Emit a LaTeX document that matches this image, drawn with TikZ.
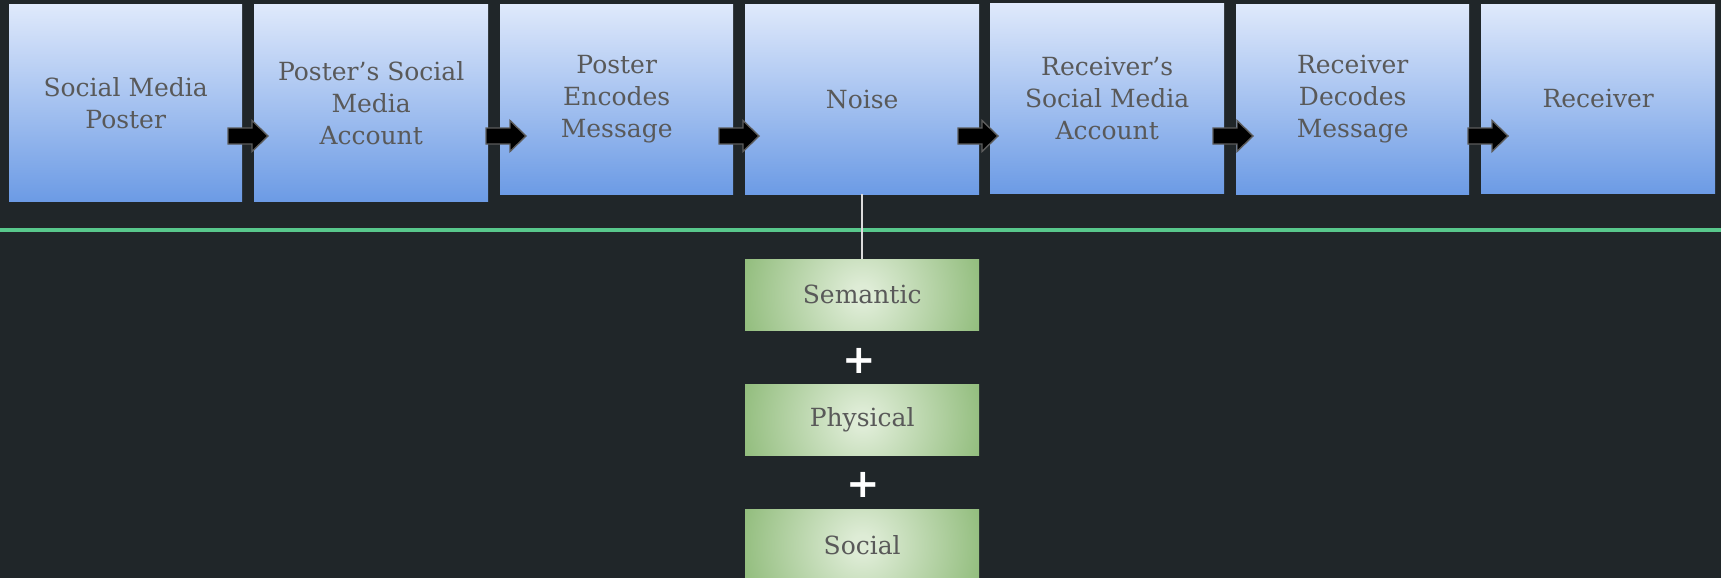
\documentclass[tikz,border=0pt]{standalone}
\usepackage{fontspec}
\setmainfont{DejaVu Serif}
\setsansfont{DejaVu Sans}
\usetikzlibrary{calc}

\definecolor{bgdark}{RGB}{32,38,41}
\definecolor{stepTop}{RGB}{223,233,251}
\definecolor{stepBottom}{RGB}{108,155,229}
\definecolor{greenEdge}{RGB}{146,189,125}
\definecolor{greenCore}{RGB}{222,236,214}
\definecolor{labelgray}{RGB}{89,89,89}
\definecolor{rulegreen}{RGB}{88,200,140}
\definecolor{arrowedge}{RGB}{92,92,92}
\definecolor{stemgray}{RGB}{220,220,220}

% circular glow: light core fading to green at the rim
% (TikZ fits the path into the central half of the shading square)
\pgfdeclareradialshading{noiseglow}{\pgfpoint{0bp}{0bp}}{%
  color(0bp)=(greenCore); color(2bp)=(greenCore); color(25bp)=(greenEdge); color(50bp)=(greenEdge)}

\tikzset{
  stepbox/.style={rectangle, inner sep=0pt, anchor=north west,
    top color=stepTop, bottom color=stepBottom,
    text=labelgray, align=center, font=\fontsize{25}{32}\selectfont},
  noisebox/.style={rectangle, inner sep=0pt, anchor=north west,
    minimum width=234pt, minimum height=71pt,
    path picture={\shade[shading=noiseglow]
      (path picture bounding box.center) circle (123pt);},
    text=labelgray, font=\fontsize{25}{32}\selectfont},
  plussign/.style={text=white, inner sep=0pt,
    font=\sffamily\bfseries\fontsize{40}{40}\selectfont},
  flowarrow/.pic={
    \draw[fill=black, draw=arrowedge, line width=1.4pt, line join=miter]
      (0,-8) -- (24,-8) -- (24,-15.5) -- (40,0) -- (24,15.5) -- (24,8) -- (0,8) -- cycle;
  }
}

\begin{document}
\begin{tikzpicture}[x=1pt,y=-1pt]
  % canvas
  \fill[bgdark] (0,0) rectangle (1721,578);
  \useasboundingbox (0,0) rectangle (1721,578);

  % communication chain
  \node[stepbox, minimum width=233pt, minimum height=197pt] (b1) at (9,4)    {Social Media\\Poster};
  \node[stepbox, minimum width=234pt, minimum height=197pt] (b2) at (254,4)  {Poster’s Social\\Media\\Account};
  \node[stepbox, minimum width=233pt, minimum height=190pt] (b3) at (500,4)  {Poster\\Encodes\\Message};
  \node[stepbox, minimum width=234pt, minimum height=190pt] (b4) at (745,4)  {Noise};
  \node[stepbox, minimum width=234pt, minimum height=190pt] (b5) at (990,3)  {Receiver’s\\Social Media\\Account};
  \node[stepbox, minimum width=233pt, minimum height=190pt] (b6) at (1236,4) {Receiver\\Decodes\\Message};
  \node[stepbox, minimum width=234pt, minimum height=189pt] (b7) at (1481,4) {Receiver};

  % block arrows between the steps
  \pic at (228,136)  {flowarrow};
  \pic at (486,136)  {flowarrow};
  \pic at (719,136)  {flowarrow};
  \pic at (958,136)  {flowarrow};
  \pic at (1213,136) {flowarrow};
  \pic at (1468,136) {flowarrow};

  % divider
  \coordinate (ruleL) at (0,229.7);
  \coordinate (ruleR) at (1721,229.7);
  \draw[rulegreen, line width=4pt] (ruleL) -- (ruleR);

  % kinds of noise
  \node[noisebox] (g1) at (745,259) {Semantic};
  \node[noisebox] (g2) at (745,384) {Physical};
  \node[noisebox] (g3) at (745,509) {Social};

  \node[plussign] (p1) at (859,361) {+};
  \node[plussign] (p2) at (863,485) {+};

  \draw[stemgray, line width=2pt] (b4.south) -- (g1.north);
\end{tikzpicture}
\end{document}
